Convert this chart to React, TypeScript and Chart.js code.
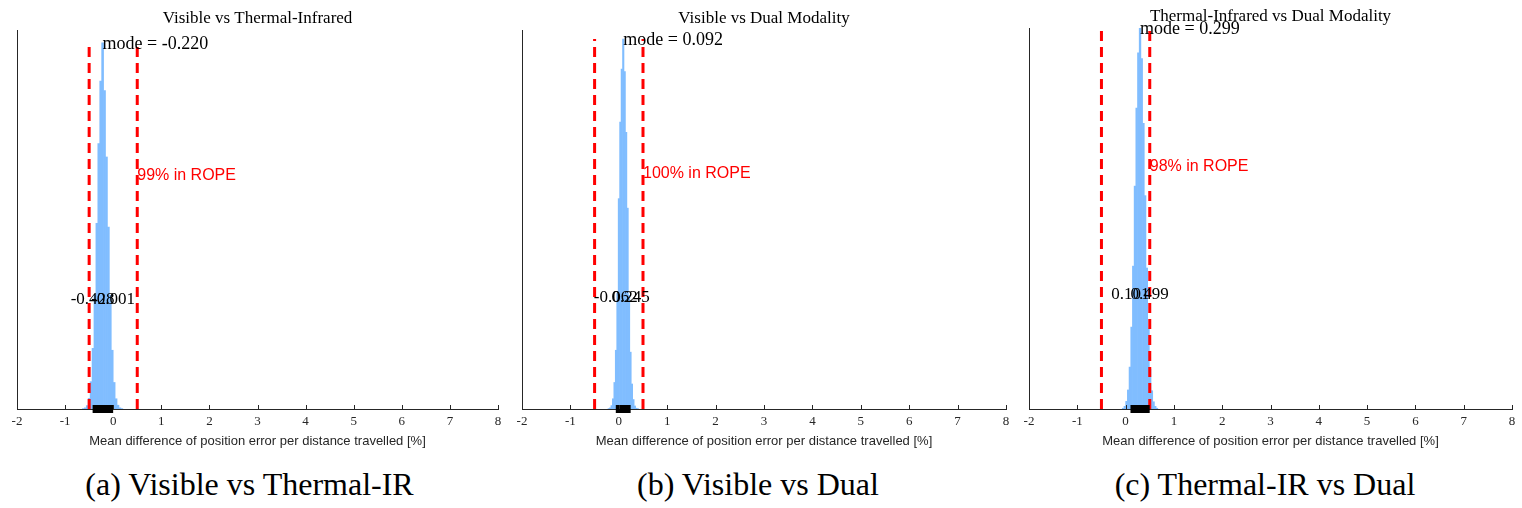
import React, { useEffect, useRef } from "react";
import { Chart, registerables } from "chart.js";

Chart.register(...registerables);

// Shared axis ticks and region of practical equivalence
const X_TICKS = [-2, -1, 0, 1, 2, 3, 4, 5, 6, 7, 8];
const ROPE_LIMITS = [-0.5, 0.5];
const X_LABEL = "Mean difference of position error per distance travelled [%]";

// (a) Visible vs Thermal-Infrared
const visThermBins = [-0.62, -0.58, -0.54, -0.5, -0.46, -0.42, -0.38, -0.34, -0.3, -0.26, -0.22, -0.18, -0.14, -0.1, -0.06, -0.02, 0.02, 0.06, 0.1, 0.14, 0.18];
const visThermHeights = [0.001, 0.003, 0.009, 0.028, 0.072, 0.16, 0.3, 0.49, 0.7, 0.865, 0.966, 0.84, 0.665, 0.48, 0.3, 0.155, 0.07, 0.027, 0.01, 0.003, 0.001];
const visThermMode = -0.22;
const visThermHdi = [-0.428, -0.001];
const visThermInRope = 99;

// (b) Visible vs Dual Modality
const visDualBins = [-0.208, -0.178, -0.148, -0.118, -0.088, -0.058, -0.028, 0.002, 0.032, 0.062, 0.092, 0.122, 0.152, 0.182, 0.212, 0.242, 0.272, 0.302, 0.332, 0.362, 0.392];
const visDualHeights = [0.001, 0.003, 0.009, 0.027, 0.07, 0.155, 0.305, 0.555, 0.757, 0.897, 0.976, 0.89, 0.73, 0.53, 0.3, 0.15, 0.066, 0.025, 0.008, 0.002, 0.001];
const visDualMode = 0.092;
const visDualHdi = [-0.062, 0.245];
const visDualInRope = 100;

// (c) Thermal-Infrared vs Dual Modality
const thermDualBins = [-0.051, -0.016, 0.019, 0.054, 0.089, 0.124, 0.159, 0.194, 0.229, 0.264, 0.299, 0.334, 0.369, 0.404, 0.439, 0.474, 0.509, 0.544, 0.579, 0.614, 0.649];
const thermDualHeights = [0.002, 0.007, 0.02, 0.05, 0.11, 0.215, 0.375, 0.585, 0.79, 0.935, 1.0, 0.92, 0.75, 0.56, 0.37, 0.21, 0.105, 0.048, 0.019, 0.007, 0.002];
const thermDualMode = 0.299;
const thermDualHdi = [0.101, 0.499];
const thermDualInRope = 98;

type PanelSpec = {
  title: string;
  caption: string;
  bins: number[];
  heights: number[];
  mode: number;
  hdi: number[];
  inRope: number;
};

const PANELS: PanelSpec[] = [
  { title: "Visible vs Thermal-Infrared", caption: "(a) Visible vs Thermal-IR", bins: visThermBins, heights: visThermHeights, mode: visThermMode, hdi: visThermHdi, inRope: visThermInRope },
  { title: "Visible vs Dual Modality", caption: "(b) Visible vs Dual", bins: visDualBins, heights: visDualHeights, mode: visDualMode, hdi: visDualHdi, inRope: visDualInRope },
  { title: "Thermal-Infrared vs Dual Modality", caption: "(c) Thermal-IR vs Dual", bins: thermDualBins, heights: thermDualHeights, mode: thermDualMode, hdi: thermDualHdi, inRope: thermDualInRope },
];

// Canvas placement and plot-area insets for each panel
const LAYOUT = [
  { left: 0, width: 510, padLeft: 17, padRight: 12, titleTop: 8.8, titleBottom: 0.8, captionX: 249.5 },
  { left: 510, width: 506, padLeft: 12, padRight: 10, titleTop: 8.8, titleBottom: 0.8, captionX: 758 },
  { left: 1016, width: 506, padLeft: 13, padRight: 10, titleTop: 6.3, titleBottom: 1.3, captionX: 1265 },
];

const CANVAS_H = 460;
const AXIS_COLOR = "#262626";
const SERIF = '"Liberation Serif", "Times New Roman", serif';
const SANS = '"Liberation Sans", Arial, sans-serif';

function PosteriorPanel({ spec, layout }: { spec: PanelSpec; layout: (typeof LAYOUT)[number] }) {
  const ref = useRef<HTMLCanvasElement | null>(null);

  useEffect(() => {
    const canvas = ref.current;
    if (!canvas) return;
    const peak = Math.max(...spec.heights);

    const notes = {
      id: "posteriorNotes",
      afterDatasetsDraw(chart: any) {
        const { ctx, chartArea, scales } = chart;
        const xs = scales.x;
        const ys = scales.y;
        ctx.save();

        // inward tick marks on the x axis
        ctx.strokeStyle = AXIS_COLOR;
        ctx.lineWidth = 1;
        for (const t of X_TICKS) {
          const px = Math.round(xs.getPixelForValue(t)) + 0.5;
          ctx.beginPath();
          ctx.moveTo(px, chartArea.bottom);
          ctx.lineTo(px, chartArea.bottom - 4);
          ctx.stroke();
        }

        ctx.textBaseline = "middle";
        ctx.fillStyle = "#000";

        // mode annotation at the top of the posterior
        ctx.font = `18px ${SERIF}`;
        ctx.textAlign = "left";
        ctx.fillText(`mode = ${spec.mode.toFixed(3)}`, xs.getPixelForValue(spec.mode), ys.getPixelForValue(peak) + 1);

        // HDI limits
        ctx.font = `17px ${SERIF}`;
        ctx.textAlign = "center";
        const hdiY = ys.getPixelForValue(peak * 0.3);
        for (const v of spec.hdi) {
          ctx.fillText(v.toFixed(3), xs.getPixelForValue(v), hdiY);
        }

        // share of the posterior inside the ROPE
        ctx.font = `16px ${SANS}`;
        ctx.fillStyle = "rgb(255,0,0)";
        ctx.textAlign = "left";
        ctx.fillText(`${spec.inRope}% in ROPE`, xs.getPixelForValue(ROPE_LIMITS[1]), ys.getPixelForValue(peak * 0.637));
        ctx.restore();
      },
    };

    const ropeSet = (x: number) => ({
      type: "line" as const,
      data: [{ x, y: 0 }, { x, y: peak }],
      borderColor: "rgb(255,0,0)",
      borderWidth: 3,
      borderDash: [10, 6],
      pointRadius: 0,
      fill: false,
      order: 1,
    });

    const chart = new Chart(canvas, {
      type: "bar",
      data: {
        datasets: [
          {
            type: "line",
            data: [{ x: spec.hdi[0], y: 0 }, { x: spec.hdi[1], y: 0 }],
            borderColor: "#000",
            borderWidth: 8,
            borderCapStyle: "butt",
            pointRadius: 0,
            fill: false,
            clip: false,
            order: 0,
          } as any,
          ropeSet(ROPE_LIMITS[0]) as any,
          ropeSet(ROPE_LIMITS[1]) as any,
          {
            type: "bar",
            data: spec.bins.map((x, i) => ({ x, y: spec.heights[i] })),
            backgroundColor: "rgb(128,189,255)",
            borderWidth: 0,
            barPercentage: 1,
            categoryPercentage: 1,
            order: 3,
          } as any,
        ],
      },
      options: {
        animation: false,
        responsive: false,
        events: [],
        layout: { padding: { left: layout.padLeft, right: layout.padRight, top: 0, bottom: 0 } },
        plugins: {
          legend: { display: false },
          tooltip: { enabled: false },
          title: {
            display: true,
            text: spec.title,
            color: "#000",
            font: { family: SERIF, size: 17, weight: "normal" },
            padding: { top: layout.titleTop, bottom: layout.titleBottom },
          },
        },
        scales: {
          x: {
            type: "linear",
            min: -2,
            max: 8,
            offset: false,
            afterFit: (s: any) => {
              s.height = 51;
            },
            afterBuildTicks: (s: any) => {
              s.ticks = X_TICKS.map((v) => ({ value: v }));
            },
            grid: { display: false, drawTicks: false },
            border: { display: true, color: AXIS_COLOR, width: 1 },
            ticks: { color: AXIS_COLOR, font: { family: SERIF, size: 13 }, padding: 5, autoSkip: false, maxRotation: 0 },
            title: {
              display: true,
              text: X_LABEL,
              color: AXIS_COLOR,
              font: { family: SANS, size: 13 },
              padding: { top: 0, bottom: 11 },
            },
          },
          y: {
            min: 0,
            max: 1,
            grid: { display: false, drawTicks: false },
            border: { display: true, color: AXIS_COLOR, width: 1 },
            ticks: { display: false },
          },
        },
      } as any,
      plugins: [notes],
    });

    return () => chart.destroy();
  }, [spec, layout]);

  return (
    <canvas
      ref={ref}
      width={layout.width}
      height={CANVAS_H}
      style={{ position: "absolute", left: layout.left, top: 0, width: layout.width, height: CANVAS_H }}
    />
  );
}

export default function App() {
  return (
    <div style={{ position: "absolute", left: 0, top: 0, width: 1522, height: 508, background: "#fff", overflow: "hidden" }}>
      {PANELS.map((p, i) => (
        <PosteriorPanel key={p.title} spec={p} layout={LAYOUT[i]} />
      ))}
      {PANELS.map((p, i) => (
        <div
          key={p.caption}
          style={{
            position: "absolute",
            left: LAYOUT[i].captionX - 250,
            width: 500,
            top: 465,
            height: 38,
            lineHeight: "38px",
            textAlign: "center",
            fontFamily: SERIF,
            fontSize: 32,
            color: "#000",
            whiteSpace: "nowrap",
          }}
        >
          {p.caption}
        </div>
      ))}
    </div>
  );
}
